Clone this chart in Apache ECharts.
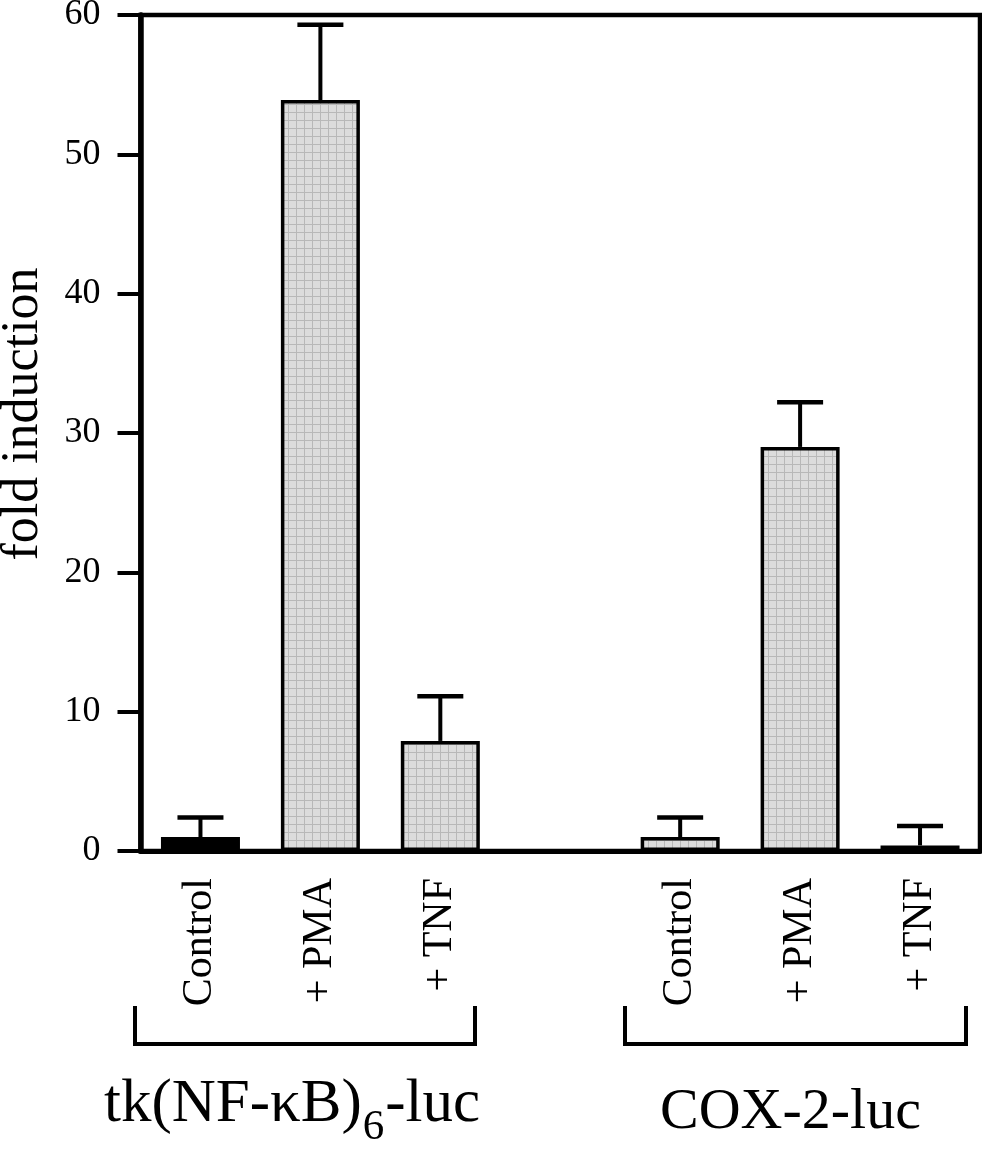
<!DOCTYPE html>
<html>
<head>
<meta charset="utf-8">
<script src="https://cdn.jsdelivr.net/npm/echarts@6/dist/echarts.min.js"></script>
<style>
  html, body { margin: 0; padding: 0; background: #fff; }
  #chart { width: 982px; height: 1155px; }
</style>
</head>
<body>
<div id="chart"></div>
<script>
// ---- data ----
const categories = ['Control', '+ PMA', '+ TNF', '', 'Control', '+ PMA', '+ TNF'];
const means      = [1.0, 53.9, 7.9, null, 1.0, 29.0, 0.4];
const upperErr   = [2.4, 59.3, 11.1, null, 2.4, 32.2, 1.8];
const yTicks     = [0, 10, 20, 30, 40, 50, 60];
const groupNames = ['tk(NF-\u03BAB)', '6', '-luc', 'COX-2-luc'];
const yTitle     = 'fold induction';

const FONT = '"Liberation Serif", "Times New Roman", serif';

// dotted grey fill pattern
const pat = document.createElement('canvas');
pat.width = 8; pat.height = 8;
const pctx = pat.getContext('2d');
pctx.fillStyle = '#dcdcdc'; pctx.fillRect(0, 0, 8, 8);
pctx.fillStyle = '#b8b8b8';
pctx.fillRect(0, 0, 8, 1); pctx.fillRect(0, 0, 1, 8);
const greyFill = { image: pat, repeat: 'repeat' };

// text measuring for the subscript label
const mctx = document.createElement('canvas').getContext('2d');
function textW(t, size) { mctx.font = size + 'px ' + FONT; return mctx.measureText(t).width; }

const barData = means.map((v, i) => ({
  value: v,
  itemStyle: i === 0 ? { color: '#000' } : { color: greyFill }
}));
const errData = [];
means.forEach((v, i) => { if (v !== null) errData.push([i, v, upperErr[i]]); });

const big = 61, sub = 43;
const x0 = 104;
const w1 = textW(groupNames[0], big);
const w2 = textW(groupNames[1], sub);

const chart = echarts.init(document.getElementById('chart'), null, { renderer: 'canvas' });
chart.setOption({
  animation: false,
  backgroundColor: '#fff',
  grid: {
    left: 140.5, right: 2, top: 15, bottom: 304,
    show: true, borderColor: '#000', borderWidth: 4.5,
    outerBoundsMode: 'none'
  },
  xAxis: {
    type: 'category',
    data: categories,
    axisLine: { lineStyle: { color: '#000', width: 5 } },
    axisTick: {
      alignWithLabel: true, length: 21,
      interval: (i, v) => v !== '',
      lineStyle: { color: '#000', width: 4 }
    },
    axisLabel: {
      interval: 0, rotate: 90, margin: 27,
      fontSize: 42, fontFamily: FONT, color: '#000'
    },
    splitLine: { show: false }
  },
  yAxis: {
    type: 'value',
    min: yTicks[0], max: yTicks[yTicks.length - 1], interval: 10,
    axisLine: { show: true, lineStyle: { color: '#000', width: 5.5 } },
    axisTick: { show: true, length: 23, lineStyle: { color: '#000', width: 4 } },
    axisLabel: { fontSize: 36, fontFamily: FONT, color: '#000', margin: 40 },
    splitLine: { show: false }
  },
  series: [
    {
      type: 'bar',
      data: barData,
      barWidth: 79,
      itemStyle: { borderColor: '#000', borderWidth: 3.5 },
      z: 2
    },
    {
      type: 'custom',
      data: errData,
      encode: { x: 0, y: [1, 2] },
      z: 3,
      renderItem: function (params, api) {
        const x = api.value(0);
        const lo = api.coord([x, api.value(1)]);
        const hi = api.coord([x, api.value(2)]);
        const half = 23;
        return {
          type: 'group',
          children: [
            { type: 'line', shape: { x1: lo[0], y1: lo[1], x2: hi[0], y2: hi[1] },
              style: { stroke: '#000', lineWidth: 4 } },
            { type: 'line', shape: { x1: hi[0] - half, y1: hi[1], x2: hi[0] + half, y2: hi[1] },
              style: { stroke: '#000', lineWidth: 4.5 } }
          ]
        };
      }
    }
  ],
  graphic: [
    { type: 'text', x: 23, y: 414, rotation: Math.PI / 2,
      style: { text: yTitle, fontSize: 52, fontFamily: FONT, fill: '#000', align: 'center', verticalAlign: 'middle' } },
    { type: 'polyline', shape: { points: [[135, 1006], [135, 1044], [475, 1044], [475, 1006]] },
      style: { stroke: '#000', lineWidth: 4, fill: null } },
    { type: 'polyline', shape: { points: [[625, 1006], [625, 1044], [966, 1044], [966, 1006]] },
      style: { stroke: '#000', lineWidth: 4, fill: null } },
    { type: 'text', x: x0, y: 1105,
      style: { text: groupNames[0], fontSize: big, fontFamily: FONT, fill: '#000', align: 'left', verticalAlign: 'middle' } },
    { type: 'text', x: x0 + w1 + 1, y: 1128,
      style: { text: groupNames[1], fontSize: sub, fontFamily: FONT, fill: '#000', align: 'left', verticalAlign: 'middle' } },
    { type: 'text', x: x0 + w1 + w2 + 2, y: 1105,
      style: { text: groupNames[2], fontSize: big, fontFamily: FONT, fill: '#000', align: 'left', verticalAlign: 'middle' } },
    { type: 'text', x: 660, y: 1113,
      style: { text: groupNames[3], fontSize: 58, fontFamily: FONT, fill: '#000', align: 'left', verticalAlign: 'middle' } }
  ]
});
</script>
</body>
</html>
